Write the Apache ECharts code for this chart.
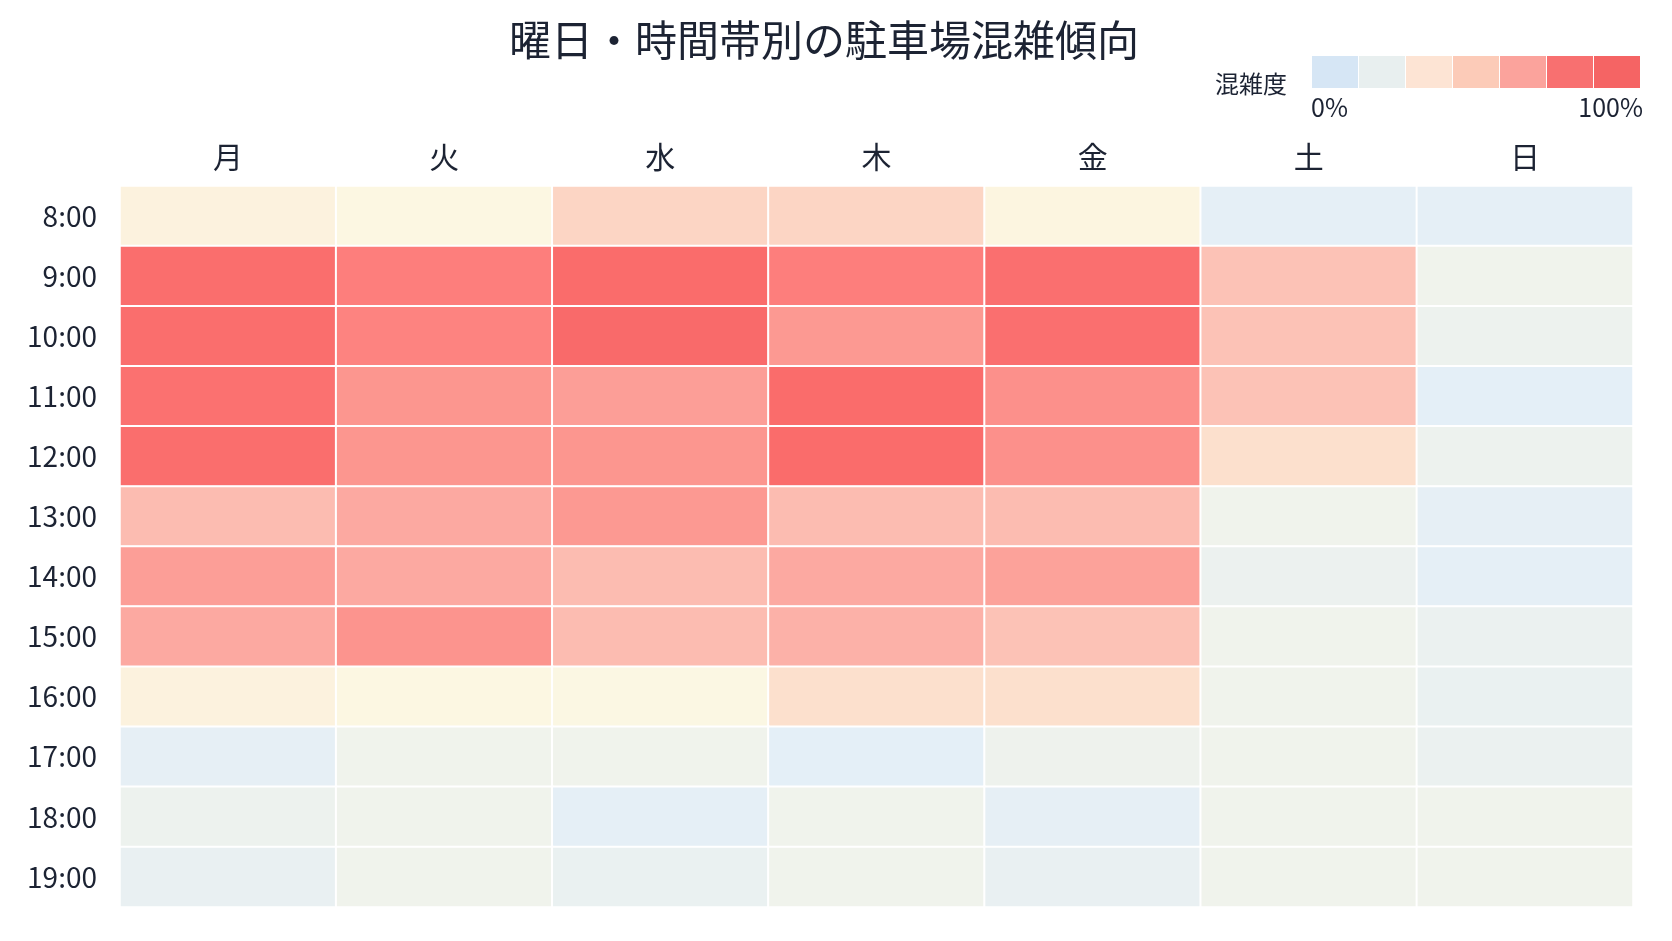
<!DOCTYPE html>
<html lang="ja">
<head>
    <meta charset="utf-8">
    <title>駐車場混雑傾向</title>
    <style>
        html, body {margin: 0; padding: 0; background: #fff;}
        #main {width: 1672px; height: 941px;}
    </style>
</head>
<body>
<div id="main"></div>

<script src="https://cdn.jsdelivr.net/npm/echarts@6/dist/echarts.min.js"></script>
<script>
    var days = ['月', '火', '水', '木', '金', '土', '日'];
    var hours = ['8:00', '9:00', '10:00', '11:00', '12:00', '13:00', '14:00',
        '15:00', '16:00', '17:00', '18:00', '19:00'];

    // 混雑度(%)  行 = 時間帯, 列 = 曜日
    var congestion = [
        [27, 25, 40, 40, 26, 3, 3],
        [97, 88, 98, 88, 96, 50, 14],
        [97, 85, 99, 71, 96, 50, 11],
        [95, 73, 68, 98, 76, 50, 2],
        [97, 73, 73, 98, 76, 35, 11],
        [53, 62, 71, 53, 53, 14, 4],
        [68, 62, 53, 62, 66, 10, 3],
        [62, 74, 53, 58, 50, 14, 9],
        [27, 25, 24, 35, 35, 14, 8],
        [4, 14, 14, 2, 12, 14, 9],
        [11, 14, 3, 14, 4, 14, 14],
        [7, 14, 8, 14, 7, 14, 14]
    ];

    var scaleColors = ['#e2eef9', '#eef2ed', '#fcf7e2', '#fcdac8', '#fcc2b6',
        '#fca8a0', '#fc928c', '#fd7f7d', '#f96868'];
    var legendColors = ['#d6e6f5', '#e8efef', '#fde4d4', '#fccbb8', '#fba39c', '#f87070', '#f56464'];

    var textColor = '#1c2333';
    var font = '"Noto Sans CJK JP", "Noto Sans", sans-serif';

    // heatmap 用のデータ [曜日, 時間帯, 値]
    var cells = [];
    for (var h = 0; h < hours.length; h++) {
        for (var d = 0; d < days.length; d++) {
            cells.push([d, h, congestion[h][d]]);
        }
    }

    // 凡例のブロック (表示だけ)
    var pieces = [];
    var step = 100 / legendColors.length;
    for (var i = 0; i < legendColors.length; i++) {
        pieces.push({min: i * step, max: (i + 1) * step, color: legendColors[i]});
    }

    var myChart = echarts.init(document.getElementById('main'));

    var option = {
        backgroundColor: '#fff',
        textStyle: {fontFamily: font, color: textColor},
        title: {
            text: '曜日・時間帯別の駐車場混雑傾向',
            left: 504,
            top: 14,
            textStyle: {fontSize: 42, fontWeight: 'normal', color: textColor, fontFamily: font}
        },
        grid: {left: 120, right: 39, top: 186, bottom: 34},
        xAxis: {
            type: 'category',
            position: 'top',
            data: days,
            axisLine: {show: false},
            axisTick: {show: false},
            splitLine: {show: false},
            axisLabel: {fontSize: 30, color: textColor, margin: 14, fontFamily: font}
        },
        yAxis: {
            type: 'category',
            inverse: true,
            data: hours,
            axisLine: {show: false},
            axisTick: {show: false},
            splitLine: {show: false},
            axisLabel: {fontSize: 28, color: textColor, margin: 23, fontFamily: font}
        },
        visualMap: [
            {
                type: 'continuous',
                show: false,
                seriesIndex: 0,
                min: 0,
                max: 100,
                inRange: {color: scaleColors}
            },
            {
                type: 'piecewise',
                seriesIndex: [],
                orient: 'horizontal',
                left: 1312,
                top: 56,
                itemWidth: 46,
                itemHeight: 32,
                itemGap: 1,
                itemSymbol: 'rect',
                showLabel: false,
                selectedMode: false,
                hoverLink: false,
                padding: 0,
                pieces: pieces
            }
        ],
        graphic: [
            {
                type: 'text', right: 1672 - 1287, top: 72,
                style: {text: '混雑度', fontSize: 24, fill: textColor, fontFamily: font}
            },
            {
                type: 'text', left: 1311, top: 95,
                style: {text: '0%', fontSize: 25, fill: textColor, fontFamily: font}
            },
            {
                type: 'text', right: 1672 - 1643, top: 95,
                style: {text: '100%', fontSize: 25, fill: textColor, fontFamily: font}
            }
        ],
        series: [{
            type: 'heatmap',
            data: cells,
            itemStyle: {borderColor: '#fff', borderWidth: 2},
            emphasis: {disabled: true}
        }]
    };

    myChart.setOption(option);
</script>
</body>
</html>
